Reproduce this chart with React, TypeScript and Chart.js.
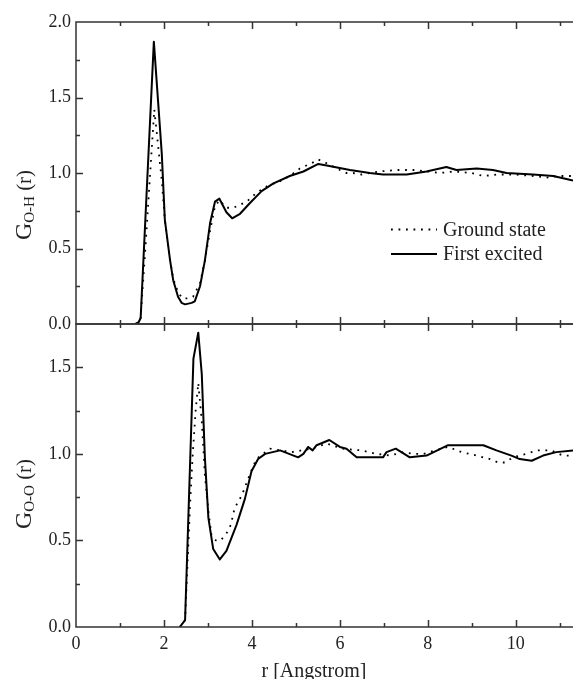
import React, { useEffect, useRef } from "react";
import { Chart, registerables } from "chart.js";

Chart.register(...registerables);

const FONT = "'Liberation Serif', 'DejaVu Serif', 'Times New Roman', serif";
const AXIS_COLOR = "#333";
const TEXT_COLOR = "#222";

// ---- Data: top panel, G_O-H(r) ----
const rOHGround = [1.35, 1.42, 1.47, 1.57, 1.66, 1.72, 1.78, 1.86, 1.95, 2.02, 2.14, 2.21, 2.32, 2.42, 2.55, 2.66, 2.82, 2.93, 3.05, 3.16, 3.26, 3.42, 3.58, 3.73, 3.88, 4.07, 4.22, 4.39, 4.60, 4.86, 5.09, 5.39, 5.50, 5.66, 6.00, 6.15, 6.30, 6.49, 6.90, 7.30, 7.70, 8.00, 8.27, 8.60, 9.00, 9.26, 9.60, 10.00, 10.40, 10.70, 11.00, 11.30];
const gOHGround = [0.00, 0.01, 0.04, 0.47, 0.88, 1.15, 1.42, 1.20, 0.95, 0.69, 0.42, 0.30, 0.21, 0.17, 0.17, 0.18, 0.27, 0.42, 0.62, 0.78, 0.82, 0.77, 0.77, 0.79, 0.81, 0.86, 0.89, 0.92, 0.94, 0.98, 1.03, 1.07, 1.09, 1.07, 1.02, 1.00, 1.00, 0.99, 1.01, 1.02, 1.02, 1.01, 1.00, 1.01, 1.00, 0.98, 0.99, 0.99, 0.98, 0.97, 0.98, 0.98];

const rOHExcited = [1.35, 1.42, 1.47, 1.77, 1.95, 2.02, 2.14, 2.21, 2.32, 2.40, 2.48, 2.63, 2.70, 2.82, 2.93, 3.05, 3.16, 3.26, 3.42, 3.55, 3.73, 3.95, 4.22, 4.48, 4.86, 5.17, 5.51, 5.70, 6.23, 6.68, 6.98, 7.52, 7.97, 8.42, 8.65, 9.11, 9.48, 9.79, 10.39, 10.85, 11.15, 11.30];
const gOHExcited = [0.00, 0.01, 0.04, 1.87, 1.13, 0.69, 0.42, 0.29, 0.18, 0.14, 0.13, 0.14, 0.15, 0.25, 0.42, 0.67, 0.81, 0.83, 0.74, 0.70, 0.73, 0.80, 0.88, 0.93, 0.98, 1.01, 1.06, 1.05, 1.02, 1.00, 0.99, 0.99, 1.01, 1.04, 1.02, 1.03, 1.02, 1.00, 0.99, 0.98, 0.96, 0.95];

// ---- Data: bottom panel, G_O-O(r) ----
const rOOGround = [2.36, 2.48, 2.59, 2.65, 2.72, 2.78, 2.86, 2.93, 3.01, 3.08, 3.18, 3.29, 3.42, 3.52, 3.61, 3.71, 3.80, 3.89, 3.95, 4.10, 4.41, 4.90, 5.36, 5.70, 6.05, 6.49, 6.83, 7.14, 7.44, 7.67, 7.90, 8.16, 8.46, 8.77, 9.11, 9.41, 9.60, 9.75, 9.94, 10.23, 10.50, 10.80, 11.07, 11.30];
const gOOGround = [0.00, 0.04, 0.69, 0.98, 1.25, 1.41, 1.19, 0.88, 0.67, 0.53, 0.50, 0.50, 0.54, 0.59, 0.69, 0.73, 0.78, 0.84, 0.88, 0.97, 1.03, 1.01, 1.03, 1.06, 1.03, 1.02, 1.00, 0.99, 1.01, 1.00, 1.00, 1.02, 1.04, 1.01, 0.99, 0.97, 0.95, 0.95, 0.98, 1.00, 1.02, 1.02, 0.99, 0.99];

const rOOExcited = [2.36, 2.48, 2.67, 2.78, 2.86, 2.93, 3.01, 3.12, 3.27, 3.42, 3.65, 3.84, 3.99, 4.14, 4.30, 4.64, 5.05, 5.17, 5.28, 5.38, 5.47, 5.76, 6.00, 6.15, 6.38, 6.98, 7.06, 7.27, 7.59, 7.97, 8.46, 9.26, 9.56, 9.90, 10.09, 10.36, 10.62, 10.92, 11.30];
const gOOExcited = [0.00, 0.04, 1.55, 1.70, 1.46, 0.98, 0.63, 0.45, 0.39, 0.44, 0.59, 0.74, 0.90, 0.97, 1.00, 1.02, 0.98, 1.00, 1.04, 1.02, 1.05, 1.08, 1.04, 1.03, 0.98, 0.98, 1.01, 1.03, 0.98, 0.99, 1.05, 1.05, 1.02, 0.99, 0.97, 0.96, 0.99, 1.01, 1.02];

// ---- Axes / ticks ----
const X_MIN = 0;
const X_MAX = 11.3;
const xTickValues = [0, 2, 4, 6, 8, 10];
const xMinorValues = [1, 3, 5, 7, 9, 11];
const yTopMax = 2.0;
const yTopTickValues = [0.0, 0.5, 1.0, 1.5, 2.0];
const yTopMinorValues = [0.25, 0.75, 1.25, 1.75];
const yBotMax = 1.75;
const yBotTickValues = [0.0, 0.5, 1.0, 1.5];
const yBotMinorValues = [0.25, 0.75, 1.25];

const seriesLabels = ["Ground state", "First excited"];
const xTitle = "r [Angstrom]";
const yTopSub = "O-H";
const yBotSub = "O-O";

const toPoints = (xs: number[], ys: number[]) => xs.map((x, i) => ({ x, y: ys[i] }));

const DOT_DASH = [1.8, 5.7];

function groundDataset(xs: number[], ys: number[]) {
  return {
    label: seriesLabels[0],
    data: toPoints(xs, ys),
    borderColor: "#000",
    borderWidth: 1.8,
    borderDash: DOT_DASH,
    borderCapStyle: "butt" as const,
    pointRadius: 0,
    tension: 0,
    fill: false,
  };
}
function excitedDataset(xs: number[], ys: number[]) {
  return {
    label: seriesLabels[1],
    data: toPoints(xs, ys),
    borderColor: "#000",
    borderWidth: 2,
    pointRadius: 0,
    tension: 0,
    fill: false,
    borderJoinStyle: "round" as const,
  };
}

function drawYTitle(ctx: CanvasRenderingContext2D, sub: string, cx: number, cy: number) {
  ctx.save();
  ctx.translate(cx, cy);
  ctx.rotate(-Math.PI / 2);
  ctx.fillStyle = TEXT_COLOR;
  ctx.textAlign = "left";
  ctx.textBaseline = "alphabetic";
  const fMain = `24px ${FONT}`;
  const fSub = `15px ${FONT}`;
  const fR = `21px ${FONT}`;
  ctx.font = fMain;
  const wG = ctx.measureText("G").width;
  ctx.font = fSub;
  const wS = ctx.measureText(sub).width;
  ctx.font = fR;
  const wR = ctx.measureText(" (r)").width;
  let x = -(wG + wS + wR) / 2;
  ctx.font = fMain;
  ctx.fillText("G", x, 0);
  x += wG;
  ctx.font = fSub;
  ctx.fillText(sub, x, 3);
  x += wS;
  ctx.font = fR;
  ctx.fillText(" (r)", x, 0);
  ctx.restore();
}

function makeFramePlugin(cfg: {
  yMajor: number[];
  yMinor: number[];
  sub: string;
  titleCx: number;
  titleCy: number;
  legend?: boolean;
  xTitle?: boolean;
}) {
  return {
    id: "frame",
    afterDraw(chart: any) {
      const { ctx, chartArea: a, scales } = chart;
      const xs = scales.x;
      const ys = scales.y;
      ctx.save();
      ctx.setLineDash([]);
      ctx.strokeStyle = AXIS_COLOR;
      ctx.lineWidth = 1.5;
      ctx.beginPath();
      ctx.moveTo(a.left, a.top);
      ctx.lineTo(a.right + 2, a.top);
      ctx.moveTo(a.left, a.bottom);
      ctx.lineTo(a.right + 2, a.bottom);
      ctx.moveTo(a.left, a.top - 0.75);
      ctx.lineTo(a.left, a.bottom + 0.75);
      const MAJ = 7;
      const MIN = 4;
      for (const v of xTickValues) {
        if (v <= X_MIN) continue;
        const px = Math.round(xs.getPixelForValue(v)) + 0.5;
        ctx.moveTo(px, a.top);
        ctx.lineTo(px, a.top + MAJ);
        ctx.moveTo(px, a.bottom);
        ctx.lineTo(px, a.bottom - MAJ);
      }
      for (const v of xMinorValues) {
        if (v >= X_MAX) continue;
        const px = Math.round(xs.getPixelForValue(v)) + 0.5;
        ctx.moveTo(px, a.top);
        ctx.lineTo(px, a.top + MIN);
        ctx.moveTo(px, a.bottom);
        ctx.lineTo(px, a.bottom - MIN);
      }
      for (const v of cfg.yMajor) {
        const py = Math.round(ys.getPixelForValue(v)) + 0.5;
        if (py <= a.top + 1 || py >= a.bottom - 1) continue;
        ctx.moveTo(a.left, py);
        ctx.lineTo(a.left + MAJ, py);
      }
      for (const v of cfg.yMinor) {
        const py = Math.round(ys.getPixelForValue(v)) + 0.5;
        ctx.moveTo(a.left, py);
        ctx.lineTo(a.left + MIN, py);
      }
      ctx.stroke();

      drawYTitle(ctx, cfg.sub, cfg.titleCx, cfg.titleCy);

      if (cfg.legend) {
        ctx.strokeStyle = "#000";
        ctx.lineWidth = 1.8;
        ctx.setLineDash(DOT_DASH);
        ctx.beginPath();
        ctx.moveTo(391, 229.5);
        ctx.lineTo(437, 229.5);
        ctx.stroke();
        ctx.setLineDash([]);
        ctx.lineWidth = 2;
        ctx.beginPath();
        ctx.moveTo(391, 254);
        ctx.lineTo(437, 254);
        ctx.stroke();
        ctx.fillStyle = TEXT_COLOR;
        ctx.font = `20px ${FONT}`;
        ctx.textAlign = "left";
        ctx.textBaseline = "alphabetic";
        ctx.fillText(seriesLabels[0], 443, 236);
        ctx.fillText(seriesLabels[1], 443, 260);
      }
      if (cfg.xTitle) {
        ctx.fillStyle = TEXT_COLOR;
        ctx.font = `20px ${FONT}`;
        ctx.textAlign = "center";
        ctx.textBaseline = "alphabetic";
        ctx.fillText(xTitle, 314, 377);
      }
      ctx.restore();
    },
  };
}

function yScale(max: number, ticks: number[]) {
  return {
    type: "linear" as const,
    min: 0,
    max,
    afterFit: (s: any) => {
      s.width = 76;
    },
    afterBuildTicks: (s: any) => {
      s.ticks = ticks.map((v) => ({ value: v }));
    },
    grid: { display: false, drawTicks: false },
    border: { display: false },
    ticks: {
      color: TEXT_COLOR,
      padding: 5,
      font: { family: FONT, size: 18 },
      callback: (v: any) => Number(v).toFixed(1),
    },
  };
}

export default function App() {
  const topRef = useRef<HTMLCanvasElement>(null);
  const botRef = useRef<HTMLCanvasElement>(null);

  useEffect(() => {
    Chart.defaults.font.family = FONT;
    const top = new Chart(topRef.current!, {
      type: "line",
      data: {
        datasets: [groundDataset(rOHGround, gOHGround), excitedDataset(rOHExcited, gOHExcited)] as any,
      },
      options: {
        responsive: false,
        animation: false,
        devicePixelRatio: 1,
        parsing: false as any,
        layout: { padding: { top: 22, bottom: 21, left: 0, right: 0 } },
        scales: {
          x: { type: "linear", min: X_MIN, max: X_MAX, display: false },
          y: yScale(yTopMax, yTopTickValues) as any,
        },
        plugins: { legend: { display: false }, tooltip: { enabled: false } },
      },
      plugins: [
        makeFramePlugin({
          yMajor: yTopTickValues,
          yMinor: yTopMinorValues,
          sub: yTopSub,
          titleCx: 31,
          titleCy: 205,
          legend: true,
        }) as any,
      ],
    });

    const bot = new Chart(botRef.current!, {
      type: "line",
      data: {
        datasets: [groundDataset(rOOGround, gOOGround), excitedDataset(rOOExcited, gOOExcited)] as any,
      },
      options: {
        responsive: false,
        animation: false,
        devicePixelRatio: 1,
        parsing: false as any,
        layout: { padding: { top: 24, bottom: 0, left: 0, right: 0 } },
        scales: {
          x: {
            type: "linear",
            min: X_MIN,
            max: X_MAX,
            afterFit: (s: any) => {
              s.height = 52;
            },
            afterBuildTicks: (s: any) => {
              s.ticks = xTickValues.map((v) => ({ value: v }));
            },
            grid: { display: false, drawTicks: false },
            border: { display: false },
            ticks: {
              color: TEXT_COLOR,
              padding: 6,
              maxRotation: 0,
              font: { family: FONT, size: 18 },
              callback: (v: any) => String(v),
            },
          } as any,
          y: yScale(yBotMax, yBotTickValues) as any,
        },
        plugins: { legend: { display: false }, tooltip: { enabled: false } },
      },
      plugins: [
        makeFramePlugin({
          yMajor: yBotTickValues,
          yMinor: yBotMinorValues,
          sub: yBotSub,
          titleCx: 31,
          titleCy: 194,
          xTitle: true,
        }) as any,
      ],
    });

    return () => {
      top.destroy();
      bot.destroy();
    };
  }, []);

  return (
    <div style={{ position: "absolute", left: 0, top: 0, width: 573, height: 679, background: "#fff", overflow: "hidden" }}>
      <canvas ref={topRef} width={573} height={345} style={{ position: "absolute", left: 0, top: 0 }} />
      <canvas ref={botRef} width={573} height={379} style={{ position: "absolute", left: 0, top: 300 }} />
    </div>
  );
}
